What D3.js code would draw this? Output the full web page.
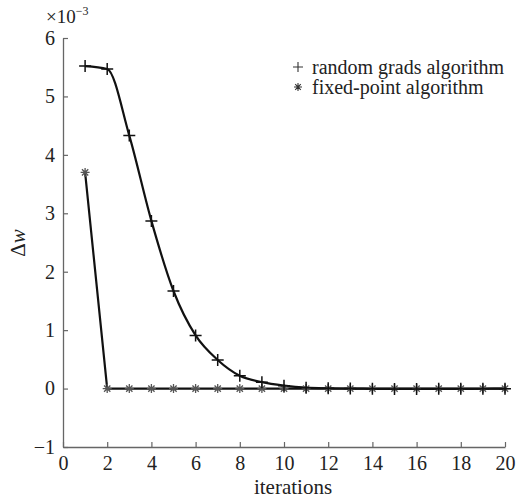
<!DOCTYPE html>
<html>
<head>
<meta charset="utf-8">
<script src="https://cdn.jsdelivr.net/npm/d3@7"></script>
<style>
  body { margin: 0; background: #fff; }
  svg text { font-family: "Liberation Serif", "Times New Roman", serif; fill: #222; }
</style>
</head>
<body>
<div id="chart"></div>
<script>
// values in units of 1e-3
const iterations = d3.range(1, 21);
const randomGrads = [5.52, 5.47, 4.33, 2.87, 1.67, 0.91, 0.49, 0.22, 0.11, 0.05,
  0.015, 0.004, 0.0, -0.004, -0.006, -0.006, -0.005, -0.004, -0.003, -0.002];
const fixedPoint = [3.70, 0, 0, 0, 0, 0, 0, 0, 0, 0,
  0, 0, 0, 0, 0, 0, 0, 0, 0, 0];
const xTicks = d3.range(0, 21, 2);
const yTicks = [-1, 0, 1, 2, 3, 4, 5, 6];
const legendLabels = ["random grads algorithm", "fixed-point algorithm"];

const width = 517, height = 499;
const margin = { top: 38, right: 12, bottom: 52, left: 63 };
const serif = '"Liberation Serif", "Times New Roman", serif';

const svg = d3.select("#chart").append("svg")
  .attr("width", width)
  .attr("height", height)
  .attr("font-family", serif);

const x = d3.scaleLinear().domain([0, 20]).range([margin.left, width - margin.right]);
const y = d3.scaleLinear().domain([-1, 6]).range([height - margin.bottom, margin.top]);

const axisColor = "#666";

// x axis, ticks pointing inward
const xAxis = svg.append("g")
  .attr("transform", "translate(0," + y(-1) + ")")
  .call(d3.axisBottom(x).tickValues(xTicks).tickSizeInner(-5).tickSizeOuter(0).tickPadding(9));

// y axis
const yAxis = svg.append("g")
  .attr("transform", "translate(" + x(0) + ",0)")
  .call(d3.axisLeft(y).tickValues(yTicks).tickSizeInner(-5).tickSizeOuter(0).tickPadding(8)
    .tickFormat(d => d < 0 ? "\u2212" + Math.abs(d) : d));

[xAxis, yAxis].forEach(g => {
  g.attr("font-family", serif).attr("font-size", 20);
  g.select(".domain").attr("stroke", axisColor).attr("stroke-width", 1.3);
  g.selectAll(".tick line").attr("stroke", axisColor).attr("stroke-width", 1.2);
  g.selectAll(".tick text").attr("fill", "#222");
});
xAxis.selectAll(".tick text").attr("dy", "0.71em");

// scale factor label
const sf = svg.append("text").attr("x", 46).attr("y", 23).attr("font-size", 19);
sf.append("tspan").text("\u00d710");
sf.append("tspan").attr("dy", -8).attr("font-size", 12).text("\u22123");

// axis labels
svg.append("text")
  .attr("x", 293)
  .attr("y", 494)
  .attr("text-anchor", "middle")
  .attr("font-size", 21)
  .text("iterations");

const yl = svg.append("text")
  .attr("transform", "translate(25,243) rotate(-90)")
  .attr("text-anchor", "middle")
  .attr("font-size", 21);
yl.append("tspan").text("\u0394");
yl.append("tspan").attr("font-style", "italic").text("w");

// lines
const lineSmooth = d3.line()
  .x((d, i) => x(iterations[i]))
  .y(d => y(d))
  .curve(d3.curveMonotoneX);

const lineStraight = d3.line()
  .x((d, i) => x(iterations[i]))
  .y(d => y(d));

svg.append("path")
  .datum(fixedPoint)
  .attr("fill", "none")
  .attr("stroke", "#111")
  .attr("stroke-width", 2.2)
  .attr("d", lineStraight);

svg.append("path")
  .datum(randomGrads)
  .attr("fill", "none")
  .attr("stroke", "#111")
  .attr("stroke-width", 2.2)
  .attr("d", lineSmooth);

// markers
function plusPath(s) {
  return `M${-s},0 L${s},0 M0,${-s} L0,${s}`;
}
function starPath(s) {
  let d = plusPath(s);
  let k = s * 0.7;
  d += ` M${-k},${-k} L${k},${k} M${-k},${k} L${k},${-k}`;
  return d;
}

svg.append("g").selectAll("path")
  .data(fixedPoint)
  .join("path")
  .attr("transform", (d, i) => "translate(" + x(iterations[i]) + "," + y(d) + ")")
  .attr("d", starPath(4.5))
  .attr("stroke", "#555")
  .attr("stroke-width", 1.3)
  .attr("fill", "none");

svg.append("g").selectAll("path")
  .data(randomGrads)
  .join("path")
  .attr("transform", (d, i) => "translate(" + x(iterations[i]) + "," + y(d) + ")")
  .attr("d", plusPath(6))
  .attr("stroke", "#111")
  .attr("stroke-width", 1.5)
  .attr("fill", "none");

// legend
const legend = svg.append("g").attr("transform", "translate(298,67)");
legend.append("path").attr("d", plusPath(5)).attr("stroke", "#333").attr("stroke-width", 1.1);
legend.append("path").attr("transform", "translate(0,20)").attr("d", starPath(4)).attr("stroke", "#333").attr("stroke-width", 1.1);
legend.selectAll("text")
  .data(legendLabels)
  .join("text")
  .attr("x", 14)
  .attr("y", (d, i) => i * 20 + 7)
  .attr("font-size", 20)
  .text(d => d);
</script>
</body>
</html>
